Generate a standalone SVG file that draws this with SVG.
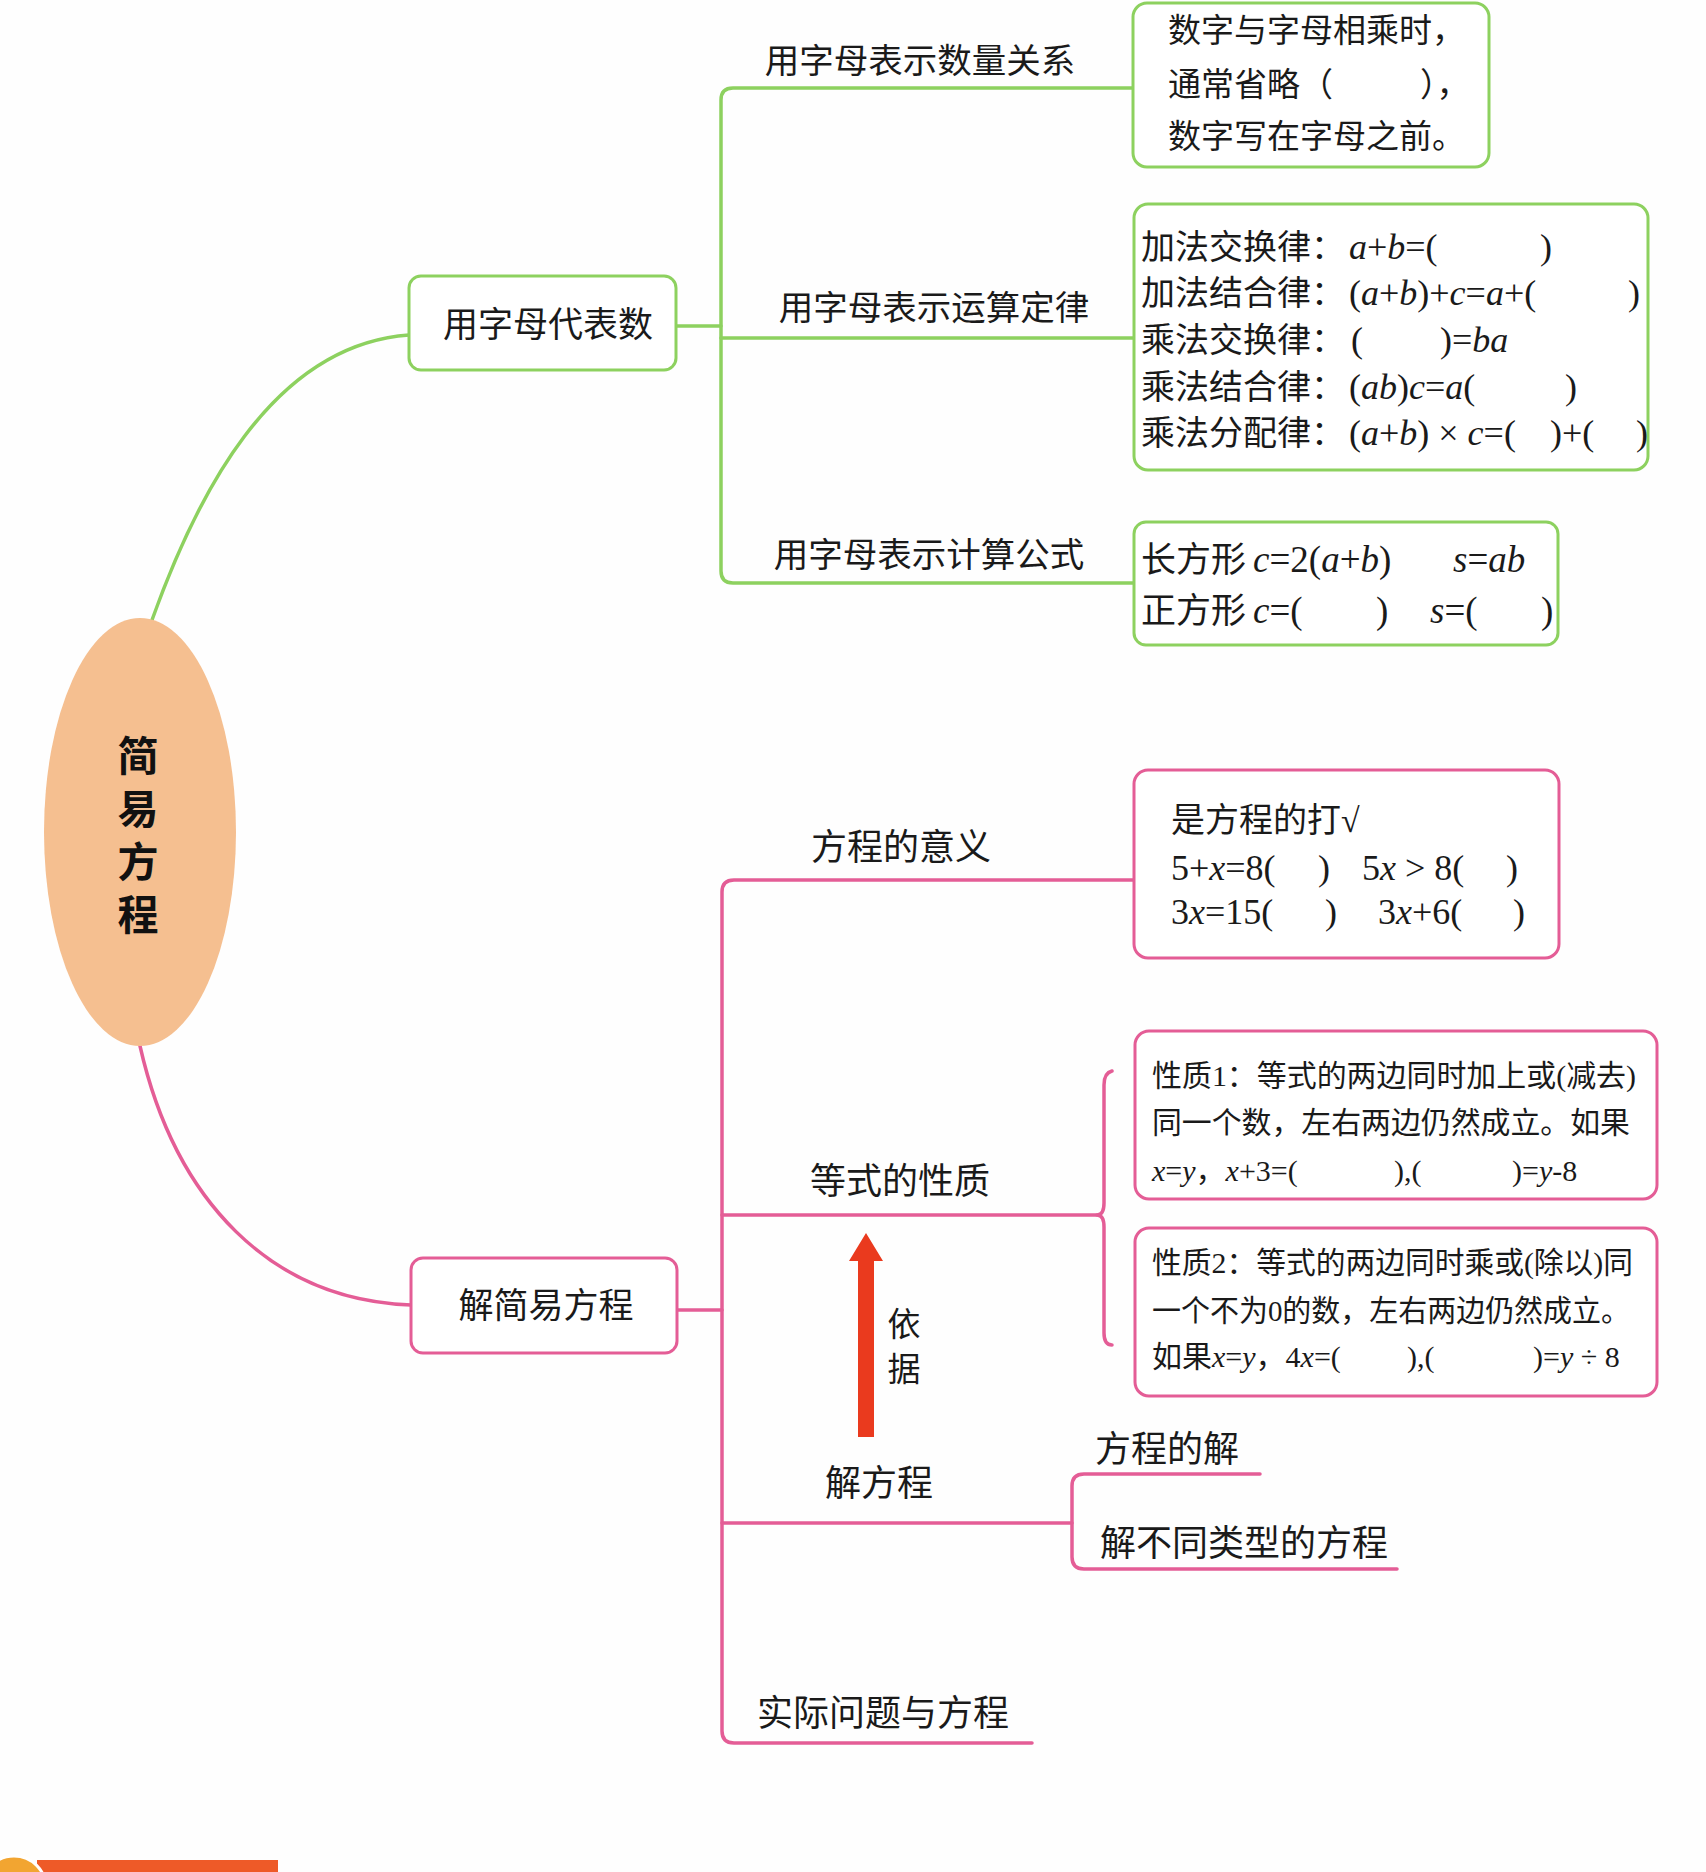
<svg xmlns="http://www.w3.org/2000/svg" width="1706" height="1872" viewBox="0 0 1706 1872">
<style>
.bg{fill:#fefefe}
.g{fill:none;stroke:#8dd15f;stroke-width:3.5;stroke-linecap:round;stroke-linejoin:round}
.p{fill:none;stroke:#e45d96;stroke-width:3.5;stroke-linecap:round;stroke-linejoin:round}
.gb{fill:#ffffff;stroke:#8dd15f;stroke-width:3}
.pb{fill:#ffffff;stroke:#e45d96;stroke-width:3}
.lbl{font-family:"Noto Sans CJK SC",sans-serif;fill:#1a1a1a}
.bx{font-family:"Liberation Serif","Noto Sans CJK SC",serif;fill:#1a1a1a}
.i{font-style:italic}
.title{font-family:"Noto Sans CJK SC",sans-serif;font-weight:700;font-size:41px;fill:#111;writing-mode:vertical-rl;letter-spacing:12px}
</style>
<rect class="bg" x="0" y="0" width="1706" height="1872"/>

<g id="connectors">
  <path class="g" d="M152,620 C195,500 270,345 409,335"/>
  <path class="g" d="M676,326 L721,326"/>
  <path class="g" d="M1134,88 L733,88 Q721,88 721,100 L721,571 Q721,583 733,583 L1134,583"/>
  <path class="g" d="M721,338 L1134,338"/>
  <path class="p" d="M140,1046 C175,1200 270,1300 411,1305"/>
  <path class="p" d="M677,1310 L722,1310"/>
  <path class="p" d="M1134,880 L734,880 Q722,880 722,892 L722,1731 Q722,1743 734,1743 L1032,1743"/>
  <path class="p" d="M722,1215 L1097,1215"/>
  <path class="p" d="M1112,1071 Q1104,1073 1104,1085 L1104,1203 Q1104,1215 1097,1215 Q1104,1215 1104,1227 L1104,1333 Q1104,1345 1112,1345"/>
  <path class="p" d="M722,1523 L1072,1523"/>
  <path class="p" d="M1260,1474 L1084,1474 Q1072,1474 1072,1486 L1072,1557 Q1072,1569 1084,1569 L1397,1569"/>
</g>

<g id="root">
  <ellipse cx="140" cy="832" rx="96" ry="214" fill="#f5bf90"/>
  <text class="title" x="138" y="735">简易方程</text>
</g>

<g id="n-letters">
  <rect class="gb" x="409" y="276" width="267" height="94" rx="12"/>
  <text class="lbl" x="548" y="337" font-size="35" text-anchor="middle">用字母代表数</text>
</g>

<g id="n-quantity">
  <text class="lbl" x="920" y="73" font-size="34.5" text-anchor="middle">用字母表示数量关系</text>
  <rect class="gb" x="1133" y="3" width="356" height="164" rx="14"/>
  <text class="bx" font-size="33">
    <tspan x="1168" y="42">数字与字母相乘时，</tspan>
    <tspan x="1168" y="96">通常省略（</tspan><tspan x="1420" y="96">），</tspan>
    <tspan x="1168" y="148">数字写在字母之前。</tspan>
  </text>
</g>

<g id="n-laws">
  <text class="lbl" x="934" y="320" font-size="34.5" text-anchor="middle">用字母表示运算定律</text>
  <rect class="gb" x="1134" y="204" width="514" height="266" rx="14"/>
  <text class="bx" font-size="34">
    <tspan x="1141" y="259">加法交换律：</tspan><tspan x="1349" y="259" font-size="36"><tspan class="i">a</tspan>+<tspan class="i">b</tspan>=(</tspan><tspan x="1540" y="259" font-size="36">)</tspan>
    <tspan x="1141" y="305">加法结合律：</tspan><tspan x="1349" y="305" font-size="36">(<tspan class="i">a</tspan>+<tspan class="i">b</tspan>)+<tspan class="i">c</tspan>=<tspan class="i">a</tspan>+(</tspan><tspan x="1628" y="305" font-size="36">)</tspan>
    <tspan x="1141" y="352">乘法交换律：</tspan><tspan x="1351" y="352" font-size="36">(</tspan><tspan x="1440" y="352" font-size="36">)=<tspan class="i">ba</tspan></tspan>
    <tspan x="1141" y="399">乘法结合律：</tspan><tspan x="1349" y="399" font-size="36">(<tspan class="i">ab</tspan>)<tspan class="i">c</tspan>=<tspan class="i">a</tspan>(</tspan><tspan x="1565" y="399" font-size="36">)</tspan>
    <tspan x="1141" y="445">乘法分配律：</tspan><tspan x="1349" y="445" font-size="36">(<tspan class="i">a</tspan>+<tspan class="i">b</tspan>) × <tspan class="i">c</tspan>=(</tspan><tspan x="1550" y="445" font-size="36">)+(</tspan><tspan x="1636" y="445" font-size="36">)</tspan>
  </text>
</g>

<g id="n-formula">
  <text class="lbl" x="929" y="567" font-size="34.5" text-anchor="middle">用字母表示计算公式</text>
  <rect class="gb" x="1134" y="522" width="424" height="123" rx="12"/>
  <text class="bx" font-size="35">
    <tspan x="1141" y="572">长方形</tspan><tspan x="1253" y="572" font-size="37"><tspan class="i">c</tspan>=2(<tspan class="i">a</tspan>+<tspan class="i">b</tspan>)</tspan><tspan x="1453" y="572" font-size="37" class="i">s</tspan><tspan font-size="37">=</tspan><tspan font-size="37" class="i">ab</tspan>
    <tspan x="1141" y="623">正方形</tspan><tspan x="1253" y="623" font-size="37"><tspan class="i">c</tspan>=(</tspan><tspan x="1376" y="623" font-size="37">)</tspan><tspan x="1430" y="623" font-size="37"><tspan class="i">s</tspan>=(</tspan><tspan x="1541" y="623" font-size="37">)</tspan>
  </text>
</g>

<g id="n-solve">
  <rect class="pb" x="411" y="1258" width="266" height="95" rx="12"/>
  <text class="lbl" x="546" y="1318" font-size="35" text-anchor="middle">解简易方程</text>
</g>

<g id="n-meaning">
  <text class="lbl" x="901" y="860" font-size="36" text-anchor="middle">方程的意义</text>
  <rect class="pb" x="1134" y="770" width="425" height="188" rx="14"/>
  <text class="bx" font-size="34">
    <tspan x="1171" y="832">是方程的打√</tspan>
    <tspan x="1171" y="880" font-size="36">5+<tspan class="i">x</tspan>=8(</tspan><tspan x="1318" y="880" font-size="36">)</tspan><tspan x="1362" y="880" font-size="36">5<tspan class="i">x</tspan> &gt; 8(</tspan><tspan x="1506" y="880" font-size="36">)</tspan>
    <tspan x="1171" y="924" font-size="36">3<tspan class="i">x</tspan>=15(</tspan><tspan x="1325" y="924" font-size="36">)</tspan><tspan x="1378" y="924" font-size="36">3<tspan class="i">x</tspan>+6(</tspan><tspan x="1513" y="924" font-size="36">)</tspan>
  </text>
</g>

<g id="n-property">
  <text class="lbl" x="900" y="1194" font-size="36" text-anchor="middle">等式的性质</text>
</g>

<g id="n-prop1">
  <rect class="pb" x="1135" y="1031" width="522" height="168" rx="14"/>
  <text class="bx" font-size="30">
    <tspan x="1152" y="1086" textLength="484" lengthAdjust="spacingAndGlyphs">性质1：等式的两边同时加上或(减去)</tspan>
    <tspan x="1152" y="1133" textLength="478" lengthAdjust="spacingAndGlyphs">同一个数，左右两边仍然成立。如果</tspan>
    <tspan x="1152" y="1181"><tspan class="i">x</tspan>=<tspan class="i">y</tspan>，<tspan class="i">x</tspan>+3=(</tspan><tspan x="1394" y="1181">),(</tspan><tspan x="1512" y="1181">)=<tspan class="i">y</tspan>-8</tspan>
  </text>
</g>

<g id="n-prop2">
  <rect class="pb" x="1135" y="1228" width="522" height="168" rx="14"/>
  <text class="bx" font-size="30">
    <tspan x="1152" y="1273" textLength="481" lengthAdjust="spacingAndGlyphs">性质2：等式的两边同时乘或(除以)同</tspan>
    <tspan x="1152" y="1321" textLength="478" lengthAdjust="spacingAndGlyphs">一个不为0的数，左右两边仍然成立。</tspan>
    <tspan x="1152" y="1367">如果<tspan class="i">x</tspan>=<tspan class="i">y</tspan>，4<tspan class="i">x</tspan>=(</tspan><tspan x="1407" y="1367">),(</tspan><tspan x="1533" y="1367">)=<tspan class="i">y</tspan> ÷ 8</tspan>
  </text>
</g>

<g id="n-basis">
  <polygon points="866,1233 883,1261 874,1261 874,1437 858,1437 858,1261 849,1261" fill="#ea3a1e"/>
  <text class="lbl" x="904" y="1336" font-size="33" text-anchor="middle">依</text>
  <text class="lbl" x="904" y="1381" font-size="33" text-anchor="middle">据</text>
</g>

<g id="n-solveeq">
  <text class="lbl" x="879" y="1496" font-size="36" text-anchor="middle">解方程</text>
</g>
<g id="n-solution">
  <text class="lbl" x="1095" y="1462" font-size="36">方程的解</text>
</g>
<g id="n-types">
  <text class="lbl" x="1100" y="1556" font-size="36">解不同类型的方程</text>
</g>
<g id="n-practical">
  <text class="lbl" x="757" y="1726" font-size="36">实际问题与方程</text>
</g>

<g id="footer-fragment">
  <rect x="37" y="1860" width="241" height="14" fill="#ee5a28"/>
  <circle cx="14" cy="1888" r="32" fill="#f2a531" stroke="#ffffff" stroke-width="3"/>
</g>
</svg>
